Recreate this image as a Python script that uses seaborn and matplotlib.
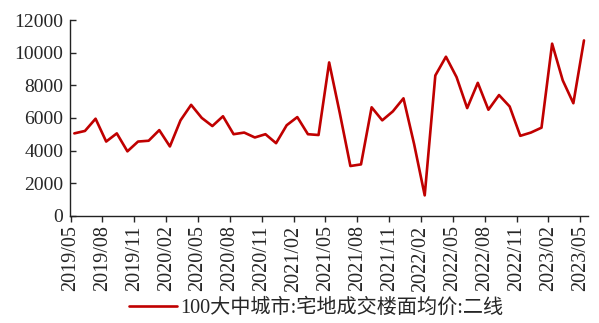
import matplotlib.pyplot as plt
import numpy as np
import pandas as pd
import seaborn as sns

sns.set_style('ticks')
plt.rcParams['font.family'] = ['Liberation Serif', 'Noto Sans CJK SC']

# monthly data, 2019/05 - 2023/05
months = pd.date_range('2019-05-01', periods=49, freq='MS').strftime('%Y/%m').tolist()
price = [5050, 5200, 5950, 4550, 5050, 3950, 4550, 4600, 5250, 4250,
         5850, 6800, 6000, 5500, 6100, 5000, 5100, 4800, 5000, 4450,
         5550, 6050, 5000, 4950, 9400, 6300, 3050, 3150, 6650, 5850,
         6400, 7200, 4400, 1250, 8600, 9750, 8500, 6600, 8150, 6500,
         7400, 6700, 4900, 5100, 5400, 10550, 8300, 6900, 10750]
series_name = '100大中城市:宅地成交楼面均价:二线'

df = pd.DataFrame({'pos': range(len(months)), 'month': months, 'price': price})

fig = plt.figure(figsize=(5.99, 3.23), dpi=100)
ax = fig.add_axes([0.117, 0.332, 0.865, 0.606])

sns.lineplot(x='pos', y='price', data=df, ax=ax, color='#C00000',
             linewidth=1.9, label=series_name, legend=False)
ax.lines[0].set_solid_joinstyle('round')

ax.set_ylim(0, 12000)
ax.set_yticks(range(0, 12001, 2000))
ax.set_xlim(-0.4, 48.4)
tick_pos = np.arange(0, 49, 3)
ax.set_xticks(tick_pos - 0.35)
ax.set_xticklabels([months[i] for i in tick_pos], rotation=90)
ax.tick_params(axis='x', direction='out', length=4, width=1, labelsize=14.5, pad=3)
ax.tick_params(axis='y', direction='in', length=4, width=1, labelsize=14, pad=5)
ax.set_xlabel('')
ax.set_ylabel('')

for s in ['top', 'right']:
    ax.spines[s].set_visible(False)
for s in ['left', 'bottom']:
    ax.spines[s].set_color('#222222')
    ax.spines[s].set_linewidth(1.0)

handles, labels = ax.get_legend_handles_labels()
fig.legend(handles, labels, loc='center', bbox_to_anchor=(0.528, 0.046),
           frameon=False, fontsize=14.5, handlelength=2.4, handletextpad=0.15)

fig.savefig('out.png', dpi=100)
